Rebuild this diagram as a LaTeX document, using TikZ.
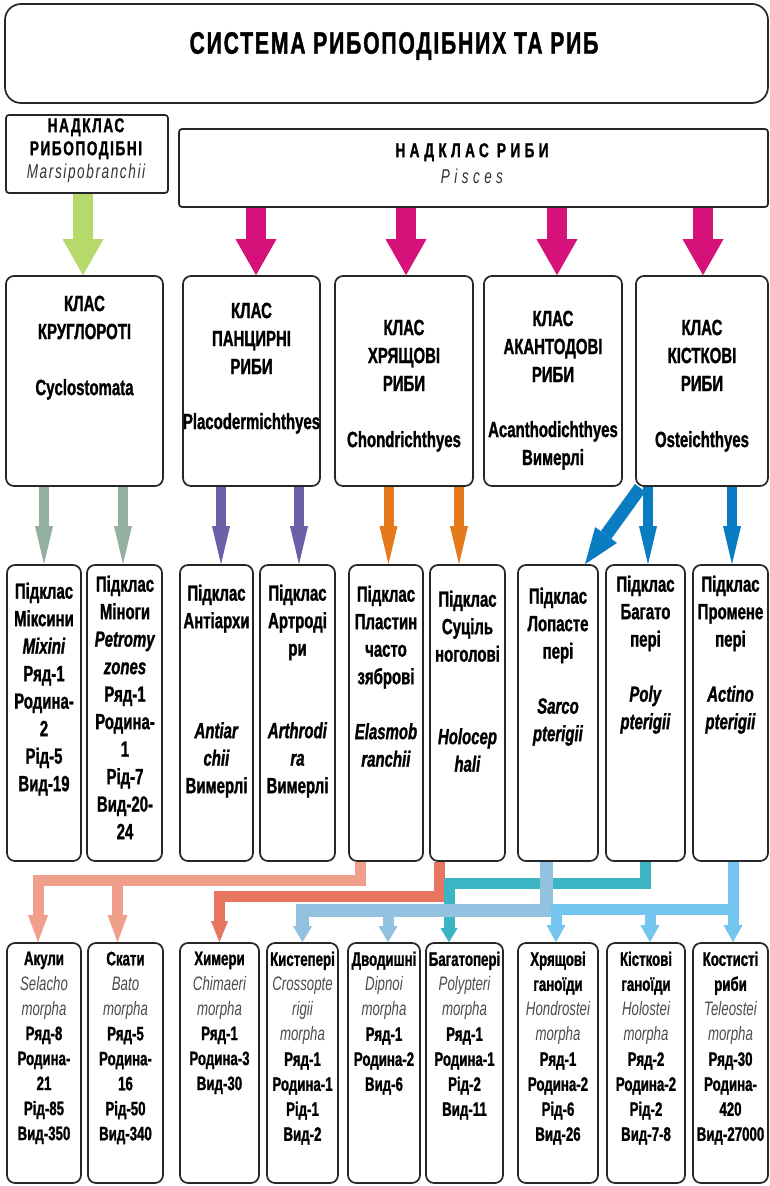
\documentclass[tikz,border=0pt]{standalone}
\usepackage{fontspec}
\setmainfont{Liberation Sans}[FakeStretch=0.75]
\newfontfamily\condfont{Liberation Sans}[FakeStretch=0.68,BoldFeatures={FakeBold=1.2},BoldItalicFeatures={FakeBold=1.2}]
\usetikzlibrary{arrows.meta}
\pgfdeclarelayer{bg}
\pgfsetlayers{bg,main}
\definecolor{cgreen}{RGB}{181,217,107}
\definecolor{cmag}{RGB}{214,18,122}
\definecolor{cgray}{RGB}{148,176,160}
\definecolor{cpurple}{RGB}{108,95,167}
\definecolor{corange}{RGB}{228,122,28}
\definecolor{cblue}{RGB}{10,124,193}
\definecolor{csalmon}{RGB}{240,160,138}
\definecolor{cred}{RGB}{232,117,96}
\definecolor{cteal}{RGB}{59,180,196}
\definecolor{clblue}{RGB}{147,193,224}
\definecolor{csky}{RGB}{116,197,239}
\newcommand{\latn}[1]{{\mdseries\itshape\color{black!70}#1}}
\begin{document}
\begin{tikzpicture}[x=1pt,y=-1pt,
  bx/.style={draw=black!85,line width=1.7pt,fill=white,rounded corners=8pt,inner sep=0pt},
  txt/.style={anchor=north,inner sep=0pt,align=center},
  ctxt/.style={txt,font=\condfont\bfseries\fontsize{22}{28}\selectfont},
  stxt/.style={txt,font=\condfont\bfseries\fontsize{22}{27.5}\selectfont},
  btxt/.style={txt,font=\condfont\bfseries\fontsize{19.5}{25}\selectfont},
  arrBig/.style={line width=20pt,-{Triangle[width=41pt,length=36pt,line width=0pt]}},
  arrMid/.style={line width=10pt,-{Triangle[width=18pt,length=38pt,line width=0pt]}},
  arrDiag/.style={line width=13pt,-{Triangle[width=27pt,length=36pt,line width=0pt]}},
  conn/.style={line width=11pt,line join=miter},
  tipSal/.style={-{Triangle[width=20pt,length=27pt,line width=0pt]}},
  tipRed/.style={-{Triangle[width=17pt,length=21pt,line width=0pt]}},
  tipTeal/.style={-{Triangle[width=17pt,length=14pt,line width=0pt]}},
  tipLb/.style={-{Triangle[width=19pt,length=16pt,line width=0pt]}},
  tipSky/.style={-{Triangle[width=19pt,length=17pt,line width=0pt]}},
]
\useasboundingbox (0,0) rectangle (770,1186);

% ---------- boxes ----------
\node[bx,rounded corners=16pt,minimum width=763pt,minimum height=99pt] (title) at (386.5,53.5) {};
\node[txt,anchor=center,font=\condfont\bfseries\fontsize{31}{33}\selectfont\addfontfeature{LetterSpace=6}] (titlet) at (394,46) {СИСТЕМА РИБОПОДІБНИХ ТА РИБ};

\node[bx,rounded corners=3pt,minimum width=162pt,minimum height=78pt] (supL) at (87,154) {};
\node[txt,font=\condfont\bfseries\fontsize{20}{23}\selectfont\addfontfeature{LetterSpace=8}] (supLt) at (86,118) {НАДКЛАС\\РИБОПОДІБНІ\\{\mdseries\itshape\color{black!80}Marsipobranchii}};

\node[bx,rounded corners=3pt,minimum width=589pt,minimum height=78pt] (supR) at (473.5,168) {};
\node[txt,font=\condfont\bfseries\fontsize{20}{26}\selectfont\addfontfeature{LetterSpace=22}] (supRt) at (472,143) {НАДКЛАС РИБИ\\{\mdseries\itshape\color{black!80}Pisces}};

% class boxes
\foreach \n/\cx/\w in {c1/84.5/157,c2/251.5/137,c3/404/138,c4/553/138,c5/702/132}
  \node[bx,minimum width=\w pt,minimum height=210pt] (\n) at (\cx,381) {};
\node[ctxt] (c1t) at (84.5,295.5) {КЛАС\\КРУГЛОРОТІ\\[28pt]Cyclostomata};
\node[ctxt] (c2t) at (251.5,302.5) {КЛАС\\ПАНЦИРНІ\\РИБИ\\[27pt]Placodermichthyes};
\node[ctxt] (c3t) at (404,319.5) {КЛАС\\ХРЯЩОВІ\\РИБИ\\[28pt]Chondrichthyes};
\node[ctxt] (c4t) at (553,310.5) {КЛАС\\АКАНТОДОВІ\\РИБИ\\[27pt]Acanthodichthyes\\Вимерлі};
\node[ctxt] (c5t) at (702,319.5) {КЛАС\\КІСТКОВІ\\РИБИ\\[28pt]Osteichthyes};

% subclass boxes
\foreach \n/\cx/\w in {s1/44/74,s2/124.5/75,s3/216.5/73,s4/297.5/75,s5/386/74,s6/467.5/75,s7/558/80,s8/645.5/79,s9/730.5/75}
  \node[bx,minimum width=\w pt,minimum height=296pt] (\n) at (\cx,713) {};
\node[stxt] (s1t) at (44,582.5) {Підклас\\Міксини\\\textit{Mixini}\\Ряд-1\\Родина-\\2\\Рід-5\\Вид-19};
\node[stxt] (s2t) at (125,575.5) {Підклас\\Міноги\\\textit{Petromy}\\\textit{zones}\\Ряд-1\\Родина-\\1\\Рід-7\\Вид-20-\\24};
\node[stxt] (s3t) at (216.5,584.5) {Підклас\\Антіархи\\[82.5pt]\textit{Antiar}\\\textit{chii}\\Вимерлі};
\node[stxt] (s4t) at (297.5,584.5) {Підклас\\Артроді\\ри\\[55pt]\textit{Arthrodi}\\\textit{ra}\\Вимерлі};
\node[stxt] (s5t) at (386,585.5) {Підклас\\Пластин\\часто\\зяброві\\[27.5pt]\textit{Elasmob}\\\textit{ranchii}};
\node[stxt] (s6t) at (467.5,590.5) {Підклас\\Суціль\\ноголові\\[55pt]\textit{Holocep}\\\textit{hali}};
\node[stxt] (s7t) at (558,587.5) {Підклас\\Лопасте\\пері\\[27.5pt]\textit{Sarco}\\\textit{pterigii}};
\node[stxt] (s8t) at (645.5,575.5) {Підклас\\Багато\\пері\\[27.5pt]\textit{Poly}\\\textit{pterigii}};
\node[stxt] (s9t) at (730.5,575.5) {Підклас\\Промене\\пері\\[27.5pt]\textit{Actino}\\\textit{pterigii}};

% bottom boxes
\foreach \n/\cx/\w in {b1/44/74,b2/125.5/75,b3/219.5/79,b4/302.5/71,b5/384/72,b6/464.5/77,b7/558/80,b8/646/78,b9/730.5/75}
  \node[bx,minimum width=\w pt,minimum height=240pt] (\n) at (\cx,1063) {};
\node[btxt] (b1t) at (44,951.5) {Акули\\\latn{Selacho}\\\latn{morpha}\\Ряд-8\\Родина-\\21\\Рід-85\\Вид-350};
\node[btxt] (b2t) at (125.5,951.5) {Скати\\\latn{Bato}\\\latn{morpha}\\Ряд-5\\Родина-\\16\\Рід-50\\Вид-340};
\node[btxt] (b3t) at (219.5,951.5) {Химери\\\latn{Chimaeri}\\\latn{morpha}\\Ряд-1\\Родина-3\\Вид-30};
\node[btxt] (b4t) at (302.5,951.5) {Кистепері\\\latn{Crossopte}\\\latn{rigii}\\\latn{morpha}\\Ряд-1\\Родина-1\\Рід-1\\Вид-2};
\node[btxt] (b5t) at (384,951.5) {Дводишні\\\latn{Dipnoi}\\\latn{morpha}\\Ряд-1\\Родина-2\\Вид-6};
\node[btxt] (b6t) at (464.5,951.5) {Багатопері\\\latn{Polypteri}\\\latn{morpha}\\Ряд-1\\Родина-1\\Рід-2\\Вид-11};
\node[btxt] (b7t) at (558,951.5) {Хрящові\\ганоїди\\\latn{Hondrostei}\\\latn{morpha}\\Ряд-1\\Родина-2\\Рід-6\\Вид-26};
\node[btxt] (b8t) at (646,951.5) {Кісткові\\ганоїди\\\latn{Holostei}\\\latn{morpha}\\Ряд-2\\Родина-2\\Рід-2\\Вид-7-8};
\node[btxt] (b9t) at (730.5,951.5) {Костисті\\риби\\\latn{Teleostei}\\\latn{morpha}\\Ряд-30\\Родина-\\420\\Вид-27000};

% ---------- connectors ----------
\begin{pgfonlayer}{bg}
\fill[white] (0,0) rectangle (770,1186);
\draw[arrBig,cgreen] ([xshift=-1.5pt]supL.south -| c1.north) -- ([xshift=-1.5pt]c1.north);
\draw[arrBig,cmag] ([xshift=4.5pt]supR.south -| c2.north) -- ([xshift=4.5pt]c2.north);
\draw[arrBig,cmag] ([xshift=2pt]supR.south -| c3.north) -- ([xshift=2pt]c3.north);
\draw[arrBig,cmag] ([xshift=4pt]supR.south -| c4.north) -- ([xshift=4pt]c4.north);
\draw[arrBig,cmag] ([xshift=1pt]supR.south -| c5.north) -- ([xshift=1pt]c5.north);

\draw[arrMid,cgray] (c1.south -| s1.north) -- (s1.north);
\draw[arrMid,cgray] ([xshift=-1.5pt]c1.south -| s2.north) -- ([xshift=-1.5pt]s2.north);
\draw[arrMid,cpurple] ([xshift=4.5pt]c2.south -| s3.north) -- ([xshift=4.5pt]s3.north);
\draw[arrMid,cpurple] ([xshift=1.5pt]c2.south -| s4.north) -- ([xshift=1.5pt]s4.north);
\draw[arrMid,corange] ([xshift=2.5pt]c3.south -| s5.north) -- ([xshift=2.5pt]s5.north);
\draw[arrMid,corange] ([xshift=-8.5pt]c3.south -| s6.north) -- ([xshift=-8.5pt]s6.north);
\draw[arrDiag,cblue] ([xshift=5pt,yshift=-1pt]c5.south west) -- ([xshift=27pt]s7.north);
\draw[arrMid,cblue] ([xshift=2.5pt]c5.south -| s8.north) -- ([xshift=2.5pt]s8.north);
\draw[arrMid,cblue] ([xshift=1.5pt]c5.south -| s9.north) -- ([xshift=1.5pt]s9.north);

\coordinate (salY) at (0,880);
\coordinate (redY) at (0,896);
\coordinate (tealY) at (0,883);
\coordinate (lbY) at (0,910.5);
\coordinate (skyY) at (0,909);

% salmon: Elasmobranchii -> Akuly, Skaty
\coordinate (salA) at ([xshift=-26pt]s5.south);
\coordinate (salB1) at ([xshift=-6pt]b1.north);
\coordinate (salB2) at ([xshift=-8pt]b2.north);
\draw[conn,tipSal,csalmon] (salA) -- (salA |- salY) -| (salB1);
\draw[conn,tipSal,csalmon] (salB2 |- salY) -- (salB2);

% red: Holocephali -> Chimaeri
\coordinate (redA) at ([xshift=-28pt]s6.south);
\draw[conn,tipRed,cred] (redA) -- (redA |- redY) -| (b3.north);

% teal: Polypterigii -> Polypteri
\coordinate (tealB) at ([xshift=-15.5pt]b6.north);
\draw[conn,tipTeal,cteal] (s8.south) -- (s8.south |- tealY) -| (tealB);

% light blue: Sarcopterigii -> Crossopterigii, Dipnoi
\coordinate (lbA) at ([xshift=-11.5pt]s7.south);
\coordinate (lbB2) at ([xshift=4pt]b5.north);
\draw[conn,line width=12.5pt,tipLb,clblue] (lbA) -- (lbA |- lbY) -| (b4.north);
\draw[conn,tipLb,clblue] (lbB2 |- lbY) -- (lbB2);

% sky: Actinopterigii -> Hondrostei, Holostei, Teleostei
\coordinate (skyA) at ([xshift=2.5pt]s9.south);
\coordinate (skyB7) at ([xshift=-2pt]b7.north);
\coordinate (skyB8) at ([xshift=4pt]b8.north);
\coordinate (skyB9) at ([xshift=2.5pt]b9.north);
\draw[conn,tipSky,csky] (skyA) -- (skyB9);
\draw[conn,tipSky,csky] (skyA |- skyY) -| (skyB7);
\draw[conn,tipSky,csky] (skyB8 |- skyY) -- (skyB8);
\end{pgfonlayer}
\end{tikzpicture}
\end{document}
